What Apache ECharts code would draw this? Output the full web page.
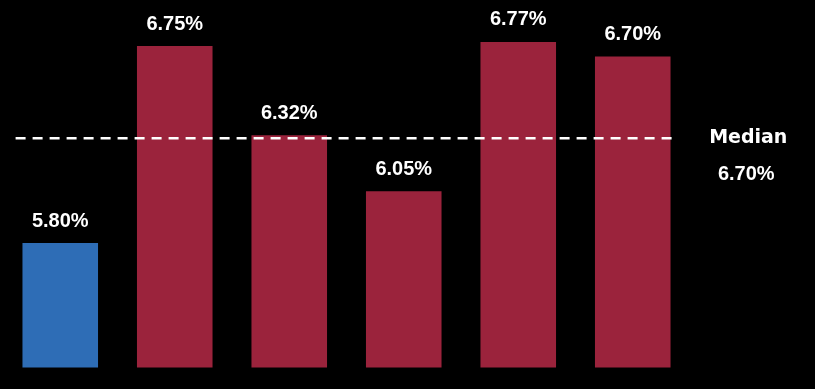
<!DOCTYPE html>
<html>
<head>
<meta charset="utf-8">
<script src="https://cdn.jsdelivr.net/npm/echarts@6/dist/echarts.min.js"></script>
<style>html,body{margin:0;padding:0;background:#000;}#c{width:815px;height:389px;}</style>
</head>
<body>
<div id="c"></div>
<script>
// Data
var categories = ['A', 'B', 'C', 'D', 'E', 'F'];
var values = [5.80, 6.75, 6.32, 6.05, 6.77, 6.70];
var barColors = ['#2E6DB6', '#9B233C', '#9B233C', '#9B233C', '#9B233C', '#9B233C'];
var medianValue = 6.70;          // value shown in the median label
var medianLinePos = 6.305;       // where the dashed line is drawn on the value scale
var medianSpan = [-0.39, 5.38];  // extent of dashed line, in category-index units
var medianTitle = 'Median';

var chart = echarts.init(document.getElementById('c'), null, {renderer: 'canvas'});

var option = {
  backgroundColor: '#000000',
  animation: false,
  grid: {left: 3, right: 125, top: 0, bottom: 21.5},
  xAxis: [
    {type: 'category', data: categories, show: false},
    {type: 'value', min: -0.5, max: 5.5, show: false}
  ],
  yAxis: {type: 'value', min: 5.2, max: 6.972, show: false, splitLine: {show: false}},
  series: [
    {
      type: 'bar',
      xAxisIndex: 0,
      barWidth: '66%',
      data: values.map(function (v, i) {
        return {value: v, itemStyle: {color: barColors[i]}};
      }),
      label: {
        show: true,
        position: 'top',
        distance: 12,
        color: '#ffffff',
        fontFamily: 'Liberation Sans',
        fontWeight: 'bold',
        fontSize: 20,
        formatter: function (p) { return p.value.toFixed(2) + '%'; }
      }
    },
    {
      type: 'line',
      xAxisIndex: 1,
      symbol: 'none',
      silent: true,
      z: 5,
      lineStyle: {color: '#ffffff', width: 2.5, type: [10, 7]},
      data: [[medianSpan[0], medianLinePos], [medianSpan[1], medianLinePos]]
    }
  ]
};
chart.setOption(option);

var lineY = chart.convertToPixel({yAxisIndex: 0}, medianLinePos);
var lineEndX = chart.convertToPixel({xAxisIndex: 1}, medianSpan[1]);
chart.setOption({
  graphic: [
    {
      type: 'text',
      x: lineEndX + 72,
      y: lineY,
      style: {
        text: medianTitle,
        fill: '#ffffff',
        font: 'bold 19px "DejaVu Sans"',
        align: 'center',
        verticalAlign: 'middle'
      }
    },
    {
      type: 'text',
      x: lineEndX + 70,
      y: lineY + 36,
      style: {
        text: medianValue.toFixed(2) + '%',
        fill: '#ffffff',
        font: 'bold 20px "Liberation Sans"',
        align: 'center',
        verticalAlign: 'middle'
      }
    }
  ]
});
</script>
</body>
</html>
